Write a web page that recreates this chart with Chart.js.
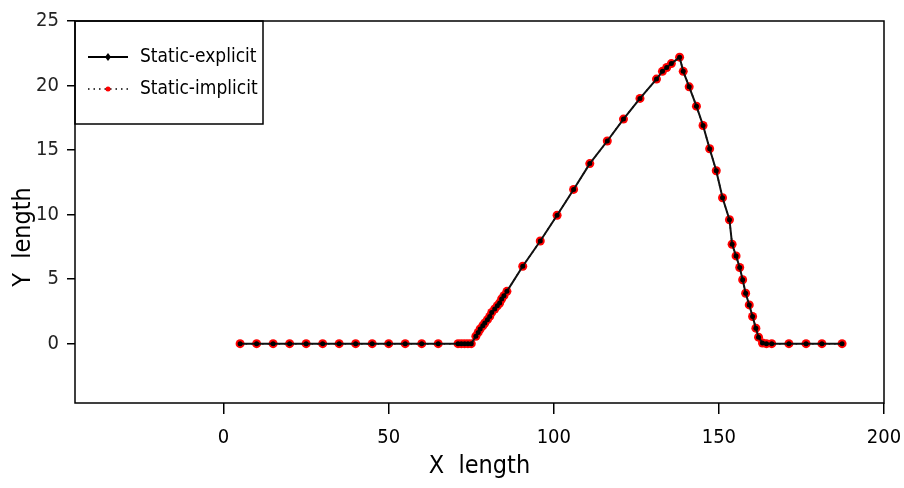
<!DOCTYPE html>
<html>
<head>
<meta charset="utf-8">
<script src="https://cdn.jsdelivr.net/npm/chart.js@4.4.1/dist/chart.umd.min.js"></script>
<style>
html,body{margin:0;padding:0;background:#fff}
</style>
</head>
<body>
<canvas id="c" width="904" height="488"></canvas>
<script>
// values
const xValues=[5,10,15,20,25,30,35,40,45,50,55,60,65,
  71,72,73,74,75,
  76.4,77.1,77.7,78.5,79.1,79.9,80.6,81.2,82.1,82.9,83.6,84.2,84.9,85.8,
  90.6,95.9,101,106,110.9,116.2,121.1,126.1,131.1,132.9,134.2,135.6,138.1,
  139.2,141,143.2,145.2,147.2,149.2,151.1,153.2,154,155.2,156.3,157.2,158.1,159.2,160.2,161.2,162,163.2,
  164.4,166,171.2,176.4,181.2,187.3];
const explicitY=[0,0,0,0,0,0,0,0,0,0,0,0,0,
  0,0,0,0,0,
  0.57,0.87,1.13,1.39,1.6,1.86,2.11,2.42,2.68,2.94,3.15,3.46,3.72,4.05,
  6,7.95,9.95,11.95,13.95,15.7,17.4,19,20.5,21.1,21.4,21.7,22.2,
  21.1,19.9,18.4,16.9,15.1,13.4,11.3,9.6,7.7,6.8,5.9,4.95,3.9,3,2.1,1.2,0.5,0.05,
  0,0,0,0,0,0];
const implicitY=[0,0,0,0,0,0,0,0,0,0,0,0,0,
  0,0,0,0,0,
  0.57,0.87,1.13,1.39,1.6,1.86,2.11,2.42,2.68,2.94,3.15,3.46,3.72,4.05,
  6,7.95,9.95,11.95,13.95,15.7,17.4,19,20.5,21.1,21.4,21.7,22.2,
  21.1,19.9,18.4,16.9,15.1,13.4,11.3,9.6,7.7,6.8,5.9,4.95,3.9,3,2.1,1.2,0.5,0.05,
  0,0,0,0,0,0];
const xTicks=[0,50,100,150,200];
const yTicks=[0,5,10,15,20,25];
const seriesNames=['Static-explicit','Static-implicit'];

const FONT="'DejaVu Sans',sans-serif";
const STRETCH='condensed'; // goes in the weight slot so Chart.js keeps it

const pts=ys=>xValues.map((x,i)=>({x,y:ys[i]}));

// box around plot + legend box like the original
const framePlugin={
  id:'frame',
  afterDraw(chart){
    const {ctx,chartArea:a}=chart;
    ctx.save();
    ctx.strokeStyle='#000';
    ctx.lineWidth=1.5;
    ctx.strokeRect(a.left,a.top,a.right-a.left,a.bottom-a.top);
    ctx.strokeRect(a.left,a.top,188,103);
    const lx=a.left+13,rx=a.left+53,mx=a.left+33;
    ctx.lineWidth=2;
    ctx.beginPath();ctx.moveTo(lx,a.top+36);ctx.lineTo(rx,a.top+36);ctx.stroke();
    ctx.fillStyle='#000';
    ctx.beginPath();ctx.moveTo(mx,a.top+32);ctx.lineTo(mx+3,a.top+36);ctx.lineTo(mx,a.top+40);ctx.lineTo(mx-3,a.top+36);ctx.closePath();ctx.fill();
    ctx.lineWidth=1.5;
    ctx.setLineDash([1.5,4]);
    ctx.beginPath();ctx.moveTo(lx,a.top+68);ctx.lineTo(rx,a.top+68);ctx.stroke();
    ctx.setLineDash([]);
    ctx.fillStyle='#f00';
    ctx.beginPath();ctx.arc(mx,a.top+68,2.5,0,Math.PI*2);ctx.fill();
    ctx.fillStyle='#000';
    ctx.font=STRETCH+' 19px '+FONT;
    ctx.textBaseline='middle';
    ctx.fillText(seriesNames[0],a.left+65,a.top+36);
    ctx.fillText(seriesNames[1],a.left+65,a.top+68);
    ctx.restore();
  }
};

new Chart(document.getElementById('c'),{
  type:'line',
  data:{datasets:[{
    label:seriesNames[0],
    data:pts(explicitY),
    borderColor:'#111',
    borderWidth:2,
    pointRadius:2.5,
    pointBackgroundColor:'#000',
    pointBorderWidth:0,
    tension:0
  },{
    label:seriesNames[1],
    data:pts(implicitY),
    borderColor:'#000',
    borderWidth:1.5,
    borderDash:[1.5,4],
    pointRadius:4.5,
    pointBackgroundColor:'#f00',
    pointBorderWidth:0,
    tension:0
  }]},
  options:{
    responsive:false,
    animation:false,
    devicePixelRatio:1,
    layout:{padding:{top:21,right:20,left:0,bottom:0}},
    plugins:{legend:{display:false},tooltip:{enabled:false}},
    scales:{
      x:{
        type:'linear',min:-45,max:200,
        afterBuildTicks:s=>{s.ticks=xTicks.map(v=>({value:v}));},
        afterFit:s=>{s.height=85;s.paddingLeft=0;s.paddingRight=0;},
        border:{display:false},
        grid:{drawOnChartArea:false,drawTicks:true,tickLength:11,color:'#000',lineWidth:1.5},
        ticks:{color:'#000',padding:12,maxRotation:0,font:{family:FONT,weight:STRETCH,size:20}},
        title:{display:true,text:'X  length',color:'#000',font:{family:FONT,weight:STRETCH,size:25},padding:{top:0,bottom:7}}
      },
      y:{
        type:'linear',min:-4.6,max:25,
        afterBuildTicks:s=>{s.ticks=yTicks.map(v=>({value:v}));},
        afterFit:s=>{s.width=75;},
        border:{display:false},
        grid:{drawOnChartArea:false,drawTicks:true,tickLength:8,color:'#000',lineWidth:1.5},
        ticks:{color:'#222',padding:8,font:{family:FONT,weight:STRETCH,size:20}},
        title:{display:true,text:'Y  length       ',color:'#000',font:{family:FONT,weight:STRETCH,size:25},padding:{top:8,bottom:0}}
      }
    }
  },
  plugins:[framePlugin]
});
</script>
</body>
</html>
